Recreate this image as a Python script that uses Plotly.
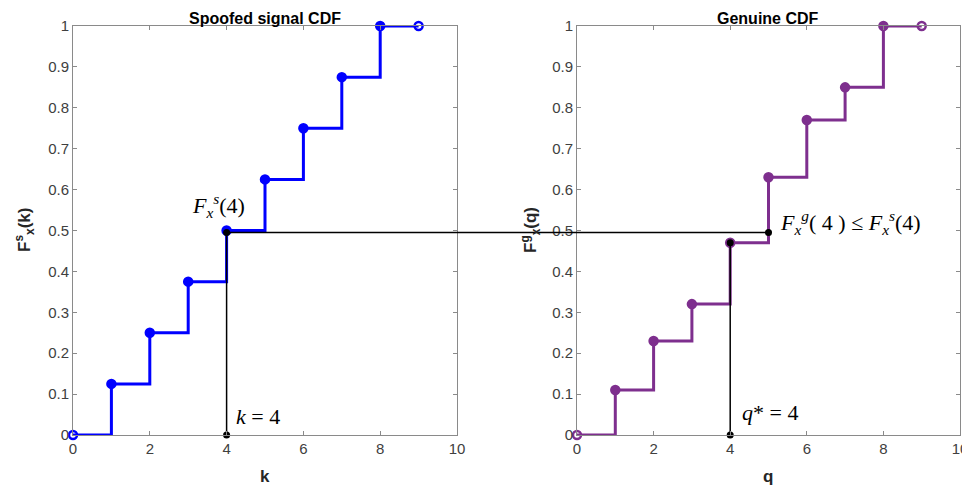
import plotly.graph_objects as go

# ---- data ----
k_vals = [0, 1, 2, 3, 4, 5, 6, 7, 8, 9]
spoofed_cdf = [0, 0.125, 0.25, 0.375, 0.5, 0.625, 0.75, 0.875, 1.0, 1.0]
q_vals = [0, 1, 2, 3, 4, 5, 6, 7, 8, 9]
genuine_cdf = [0, 0.11, 0.23, 0.32, 0.47, 0.63, 0.77, 0.85, 1.0, 1.0]
x_ticks = [0, 2, 4, 6, 8, 10]
y_ticks = [0, 0.1, 0.2, 0.3, 0.4, 0.5, 0.6, 0.7, 0.8, 0.9, 1]
y_tick_text = ["0", "0.1", "0.2", "0.3", "0.4", "0.5", "0.6", "0.7", "0.8", "0.9", "1"]
k_star = 4
level = 0.495
q_star = 4
q_match = 5

BLUE = "#0000FF"
PURPLE = "#7E2F8E"
AX = "#8a8a8a"
TICKC = "#404040"

OFF = 8  # page body margin
W, H = 970 - OFF, 489 - OFF


def px(x):
    return (x - OFF) / W


def py(y):
    return 1 - (y - OFF) / H


dom_x1 = [px(73), px(457)]
dom_x2 = [px(577), px(960)]
dom_y = [py(435), py(26)]
xr = [0, 10]
yr = [0, 1]


def to_paper(x, dom):
    return dom[0] + (x - xr[0]) / (xr[1] - xr[0]) * (dom[1] - dom[0])


def marker_style(n, color):
    sym = ["circle-open" if i in (0, n - 1) else "circle" for i in range(n)]
    return dict(symbol=sym, size=8, color=color, line=dict(color=color, width=2.5))


fig = go.Figure()

fig.add_trace(go.Scatter(x=k_vals, y=spoofed_cdf, mode="lines+markers", line_shape="hv",
                         line=dict(color=BLUE, width=3), marker=marker_style(len(k_vals), BLUE),
                         cliponaxis=False, xaxis="x", yaxis="y", showlegend=False))
fig.add_trace(go.Scatter(x=q_vals, y=genuine_cdf, mode="lines+markers", line_shape="hv",
                         line=dict(color=PURPLE, width=3), marker=marker_style(len(q_vals), PURPLE),
                         cliponaxis=False, xaxis="x2", yaxis="y2", showlegend=False))

# black guide lines
fig.add_trace(go.Scatter(x=[k_star, k_star], y=[0, level], mode="lines+markers",
                         line=dict(color="black", width=1.5), marker=dict(color="black", size=7),
                         cliponaxis=False, xaxis="x", yaxis="y", showlegend=False))
fig.add_trace(go.Scatter(x=[q_star, q_star], y=[0, genuine_cdf[q_star]], mode="lines+markers",
                         line=dict(color="black", width=1.5), marker=dict(color="black", size=7),
                         cliponaxis=False, xaxis="x2", yaxis="y2", showlegend=False))
fig.add_trace(go.Scatter(x=[q_match], y=[level], mode="markers",
                         marker=dict(color="black", size=7),
                         cliponaxis=False, xaxis="x2", yaxis="y2", showlegend=False))
fig.add_shape(type="line", xref="paper", yref="y",
              x0=to_paper(k_star, dom_x1), x1=to_paper(q_match, dom_x2), y0=level, y1=level,
              line=dict(color="black", width=1.5))

tfont = dict(family="Liberation Sans, Arial", size=15, color=TICKC)
axis_common = dict(range=xr, tickvals=x_ticks, ticks="inside", ticklen=4, tickcolor=AX,
                   showline=True, linecolor=AX, linewidth=1, mirror="ticks", showgrid=False,
                   zeroline=False, automargin=False, tickfont=tfont)
yaxis_common = dict(range=yr, tickvals=y_ticks, ticktext=y_tick_text, ticks="inside", ticklen=4,
                    tickcolor=AX, showline=True, linecolor=AX, linewidth=1, mirror="ticks",
                    showgrid=False, zeroline=False, automargin=False, tickfont=tfont)

fig.update_layout(
    template="none",
    width=W, height=H, margin=dict(l=0, r=0, t=0, b=0, autoexpand=False),
    plot_bgcolor="white", paper_bgcolor="white",
    xaxis=dict(domain=dom_x1, anchor="y", **axis_common),
    yaxis=dict(domain=dom_y, anchor="x", **yaxis_common),
    xaxis2=dict(domain=dom_x2, anchor="y2", **axis_common),
    yaxis2=dict(domain=dom_y, anchor="x2", **yaxis_common),
)

bold = dict(family="Liberation Sans, Arial", size=16, color="black")
axt = dict(family="Liberation Sans, Arial", size=17, color="#262626")
serif = dict(family="Liberation Serif, Times New Roman", size=22, color="black")
P = dict(xref="paper", yref="paper", showarrow=False, xanchor="center", yanchor="middle")
T = dict(xref="paper", yref="paper", showarrow=False, xanchor="center", yanchor="top")
ann = [
    dict(text="<b>Spoofed signal CDF</b>", x=px(265), y=1, font=bold, **T),
    dict(text="<b>Genuine CDF</b>", x=px(768), y=1, font=bold, **T),
    dict(text="<b>k</b>", x=px(265), y=py(476), font=axt, **P),
    dict(text="<b>q</b>", x=px(768), y=py(476), font=axt, **P),
    dict(text="<b>F<sup>s</sup><sub>x</sub>(k)</b>", x=px(24), y=py(230), textangle=-90, font=axt, **P),
    dict(text="<b>F<sup>g</sup><sub>x</sub>(q)</b>", x=px(530), y=py(230), textangle=-90, font=axt, **P),
    dict(text="<i>F</i><sub><i>x</i></sub><sup><i>s</i></sup>(4)", x=3.8, y=0.56, xref="x", yref="y",
         xanchor="center", yanchor="middle", showarrow=False, font=serif),
    dict(text="<i>k</i> = 4", x=4.2, y=0.045, xref="x", yref="y", xanchor="left", yanchor="middle",
         showarrow=False, font=serif),
    dict(text="<i>F</i><sub><i>x</i></sub><sup><i>g</i></sup>( 4 ) ≤ <i>F</i><sub><i>x</i></sub><sup><i>s</i></sup>(4)",
         x=5.25, y=0.52, xref="x2", yref="y2", xanchor="left", yanchor="middle", showarrow=False, font=serif),
    dict(text="<i>q</i>* = 4", x=4.25, y=0.055, xref="x2", yref="y2", xanchor="left", yanchor="middle",
         showarrow=False, font=serif),
]
fig.update_layout(annotations=ann)

fig.write_html("out.html")
